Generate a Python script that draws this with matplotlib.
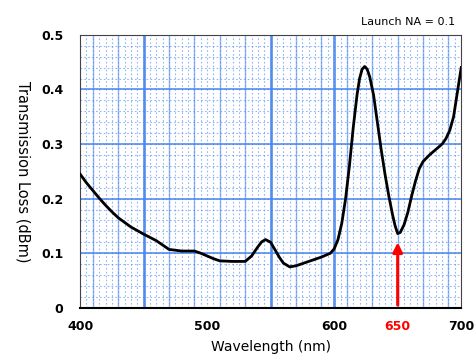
import matplotlib
matplotlib.use("Agg")
import matplotlib.pyplot as plt
import numpy as np

# wavelength (nm) vs transmission loss (dB/m)
wavelength = [400, 405, 410, 415, 420, 425, 430, 440, 450, 460, 465, 470, 480, 490, 495,
              500, 505, 510, 520, 530, 535, 540, 543, 546, 550, 553, 557, 560, 565, 570,
              580, 590, 597, 600, 603, 606, 609, 612, 615, 618, 620, 622, 624, 626, 628,
              631, 634, 637, 640, 643, 646, 648, 650, 652, 655, 658, 661, 664, 667, 670,
              675, 680, 685, 688, 691, 694, 697, 700]
loss = [0.245, 0.229, 0.215, 0.201, 0.188, 0.176, 0.165, 0.148, 0.135, 0.123, 0.115,
        0.107, 0.104, 0.104, 0.100, 0.095, 0.090, 0.086, 0.085, 0.085, 0.095, 0.112,
        0.121, 0.125, 0.120, 0.108, 0.092, 0.082, 0.075, 0.077, 0.085, 0.093, 0.100,
        0.108, 0.125, 0.155, 0.200, 0.260, 0.330, 0.390, 0.420, 0.437, 0.442, 0.437,
        0.423, 0.390, 0.340, 0.290, 0.245, 0.205, 0.170, 0.150, 0.136, 0.138, 0.152,
        0.175, 0.205, 0.232, 0.255, 0.268, 0.280, 0.290, 0.300, 0.310, 0.325, 0.350,
        0.395, 0.440]

xticks = [400, 500, 600, 650, 700]
yticks = [0, 0.1, 0.2, 0.3, 0.4, 0.5]
ytick_labels = ["0", "0.1", "0.2", "0.3", "0.4", "0.5"]
marker_wl = 650

grid_blue = "#4a86f0"

fig = plt.figure(figsize=(4.74, 3.63), dpi=100)
ax = fig.add_axes([0.169, 0.152, 0.804, 0.752])
ax.set_xlim(400, 700)
ax.set_ylim(0, 0.5)

# graph-paper style grid
for x in np.arange(405, 700, 5):
    ax.axvline(x, color=grid_blue, lw=0.8, ls=(0, (1.5, 2)), alpha=0.6, zorder=0)
for y in np.arange(0.02, 0.5, 0.02):
    ax.axhline(y, color=grid_blue, lw=0.8, ls=(0, (1.5, 2)), alpha=0.6, zorder=0)
for x in np.arange(410, 700, 20):
    ax.axvline(x, color=grid_blue, lw=1.0, alpha=0.6, zorder=0)
for x in [450, 550, 600]:
    ax.axvline(x, color=grid_blue, lw=2.0, alpha=0.85, zorder=0)
for y in [0.1, 0.2, 0.3, 0.4]:
    ax.axhline(y, color=grid_blue, lw=1.3, alpha=0.85, zorder=0)

ax.plot(wavelength, loss, color="black", lw=2.0, zorder=3)

ax.annotate("", xy=(marker_wl, 0.125), xytext=(marker_wl, 0.0),
            arrowprops=dict(arrowstyle="-|>", color="red", lw=2.2, mutation_scale=14),
            zorder=4, annotation_clip=False)

ax.set_xticks(xticks)
ax.set_xticklabels([str(t) for t in xticks], fontsize=9, fontweight="bold")
ax.get_xticklabels()[3].set_color("red")
ax.set_yticks(yticks)
ax.set_yticklabels(ytick_labels, fontsize=9, fontweight="bold")
ax.tick_params(length=0, pad=9)
ax.tick_params(axis="y", pad=12)

for s in ax.spines.values():
    s.set_color("#444444")
    s.set_linewidth(0.8)
ax.spines["bottom"].set_linewidth(1.5)
ax.spines["bottom"].set_color("black")

ax.set_xlabel("Wavelength (nm)", fontsize=10, labelpad=5)
ax.set_ylabel("Transmission Loss (dBm)", fontsize=10.5, rotation=270, va="center")
ax.yaxis.set_label_coords(-0.15, 0.5)
fig.text(0.96, 0.925, "Launch NA = 0.1", ha="right", va="bottom", fontsize=8)

fig.savefig("out.png", dpi=100)
